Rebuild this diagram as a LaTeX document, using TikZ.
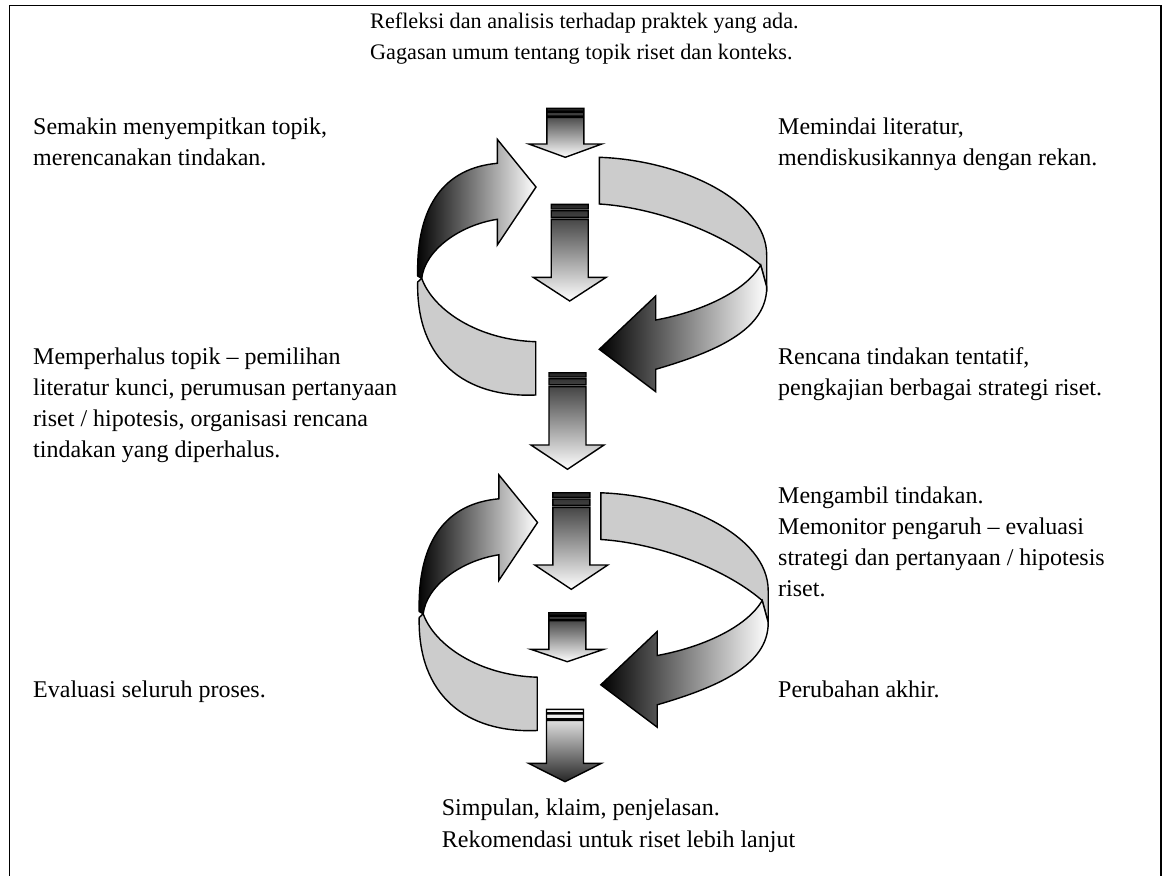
\documentclass[tikz,border=0pt]{standalone}
\usepackage{fontspec}
\setmainfont{Liberation Serif}
\newcommand\vstriped[5]{%
 \begin{scope}[shift={(#1)}]
  \shadedraw[outl,#5] (-18.5,0) rectangle (18.5,{0.31*#2})
   (-18.5,{0.43*#2}) rectangle (18.5,{0.87*#2})
   (-18.5,#2) -- (-18.5,#3) -- (-36.5,#3) -- (0,#4) -- (36.5,#3) -- (18.5,#3) -- (18.5,#2) -- cycle;
 \end{scope}}
\newcommand\ringshape{%
 \shadedraw[outl,left color=black,right color=white] (497.3,139.3) -- (536,187) -- (497.3,245) -- (497.3,219.3) .. controls (460,225) and (425,250) .. (421.7,278.3) -- (417.7,276) .. controls (416,205) and (445,168) .. (497.3,163.3) -- cycle;
 \filldraw[outl,fill=black!20] (599.3,157.3) .. controls (680,160) and (766.7,200) .. (766.7,255) -- (766.7,287) -- (760.7,265) .. controls (720,230) and (650,207) .. (599.3,204) -- cycle;
 \filldraw[outl,fill=black!20] (421.7,278.3) .. controls (433,310) and (478,340) .. (535.7,341.7) -- (535.7,395) .. controls (465,398) and (416,360) .. (417.7,282) -- cycle;
 \shadedraw[outl,left color=black,right color=white] (655.7,296) -- (599.3,349.3) -- (655.7,391.7) -- (655.7,369.3) .. controls (715,352) and (767,330) .. (766.7,287) -- (760.7,265) .. controls (745,292) and (700,312) .. (655.7,320) -- cycle;
}
\begin{document}
\begin{tikzpicture}[x=1pt,y=-1pt,
  outl/.style={draw=black,line width=1.4pt},
  txt/.style={anchor=base west,inner sep=0pt,align=left,font=\fontsize{24}{31.3}\selectfont},
  toptxt/.style={txt,font=\fontsize{22.2}{31.3}\selectfont}]
\useasboundingbox (0,0) rectangle (1163,876);
\clip (0,0) rectangle (1163,876);
\fill[white] (0,0) rectangle (1163,876);
\draw[line width=1.5pt] (9.5,900) -- (9.5,5.5) -- (1161,5.5) -- (1161,900);
% rings
\ringshape
\begin{scope}[shift={(1.5,335.5)}]
\ringshape
\end{scope}
% vertical striped arrows
\vstriped{565.3,108.3}{9}{35.7}{49}{top color=black!85,bottom color=white}
\vstriped{569.7,204.3}{15}{73}{96.7}{top color=black!85,bottom color=white}
\vstriped{567.5,372.7}{14}{72.3}{96.6}{top color=black!85,bottom color=white}
\vstriped{571.3,492.7}{14.6}{72.3}{96.6}{top color=black!85,bottom color=white}
\vstriped{567.3,612.7}{8}{36.6}{49}{top color=black!85,bottom color=white}
\vstriped{565,709.3}{11}{54}{72.4}{top color=white,bottom color=black!85}
% texts (base = baseline of last line)
\node[toptxt] (top) at (370,59.3) {Refleksi dan analisis terhadap praktek yang ada.\\Gagasan umum tentang topik riset dan konteks.};
\node[txt] (narrow) at (33,165.3) {Semakin menyempitkan topik,\\merencanakan tindakan.};
\node[txt] (scan) at (778,165.3) {Memindai literatur,\\mendiskusikannya dengan rekan.};
\node[txt] (refine) at (33,457.9) {Memperhalus topik – pemilihan\\literatur kunci, perumusan pertanyaan\\riset / hipotesis, organisasi rencana\\tindakan yang diperhalus.};
\node[txt] (plan) at (778,395.3) {Rencana tindakan tentatif,\\pengkajian berbagai strategi riset.};
\node[txt] (act) at (778,596.9) {Mengambil tindakan.\\Memonitor pengaruh – evaluasi\\strategi dan pertanyaan / hipotesis\\riset.};
\node[txt] (eval) at (33,697) {Evaluasi seluruh proses.};
\node[txt] (final) at (778,697) {Perubahan akhir.};
\node[txt] (concl) at (441.7,847) {Simpulan, klaim, penjelasan.\\Rekomendasi untuk riset lebih lanjut};
\end{tikzpicture}
\end{document}
